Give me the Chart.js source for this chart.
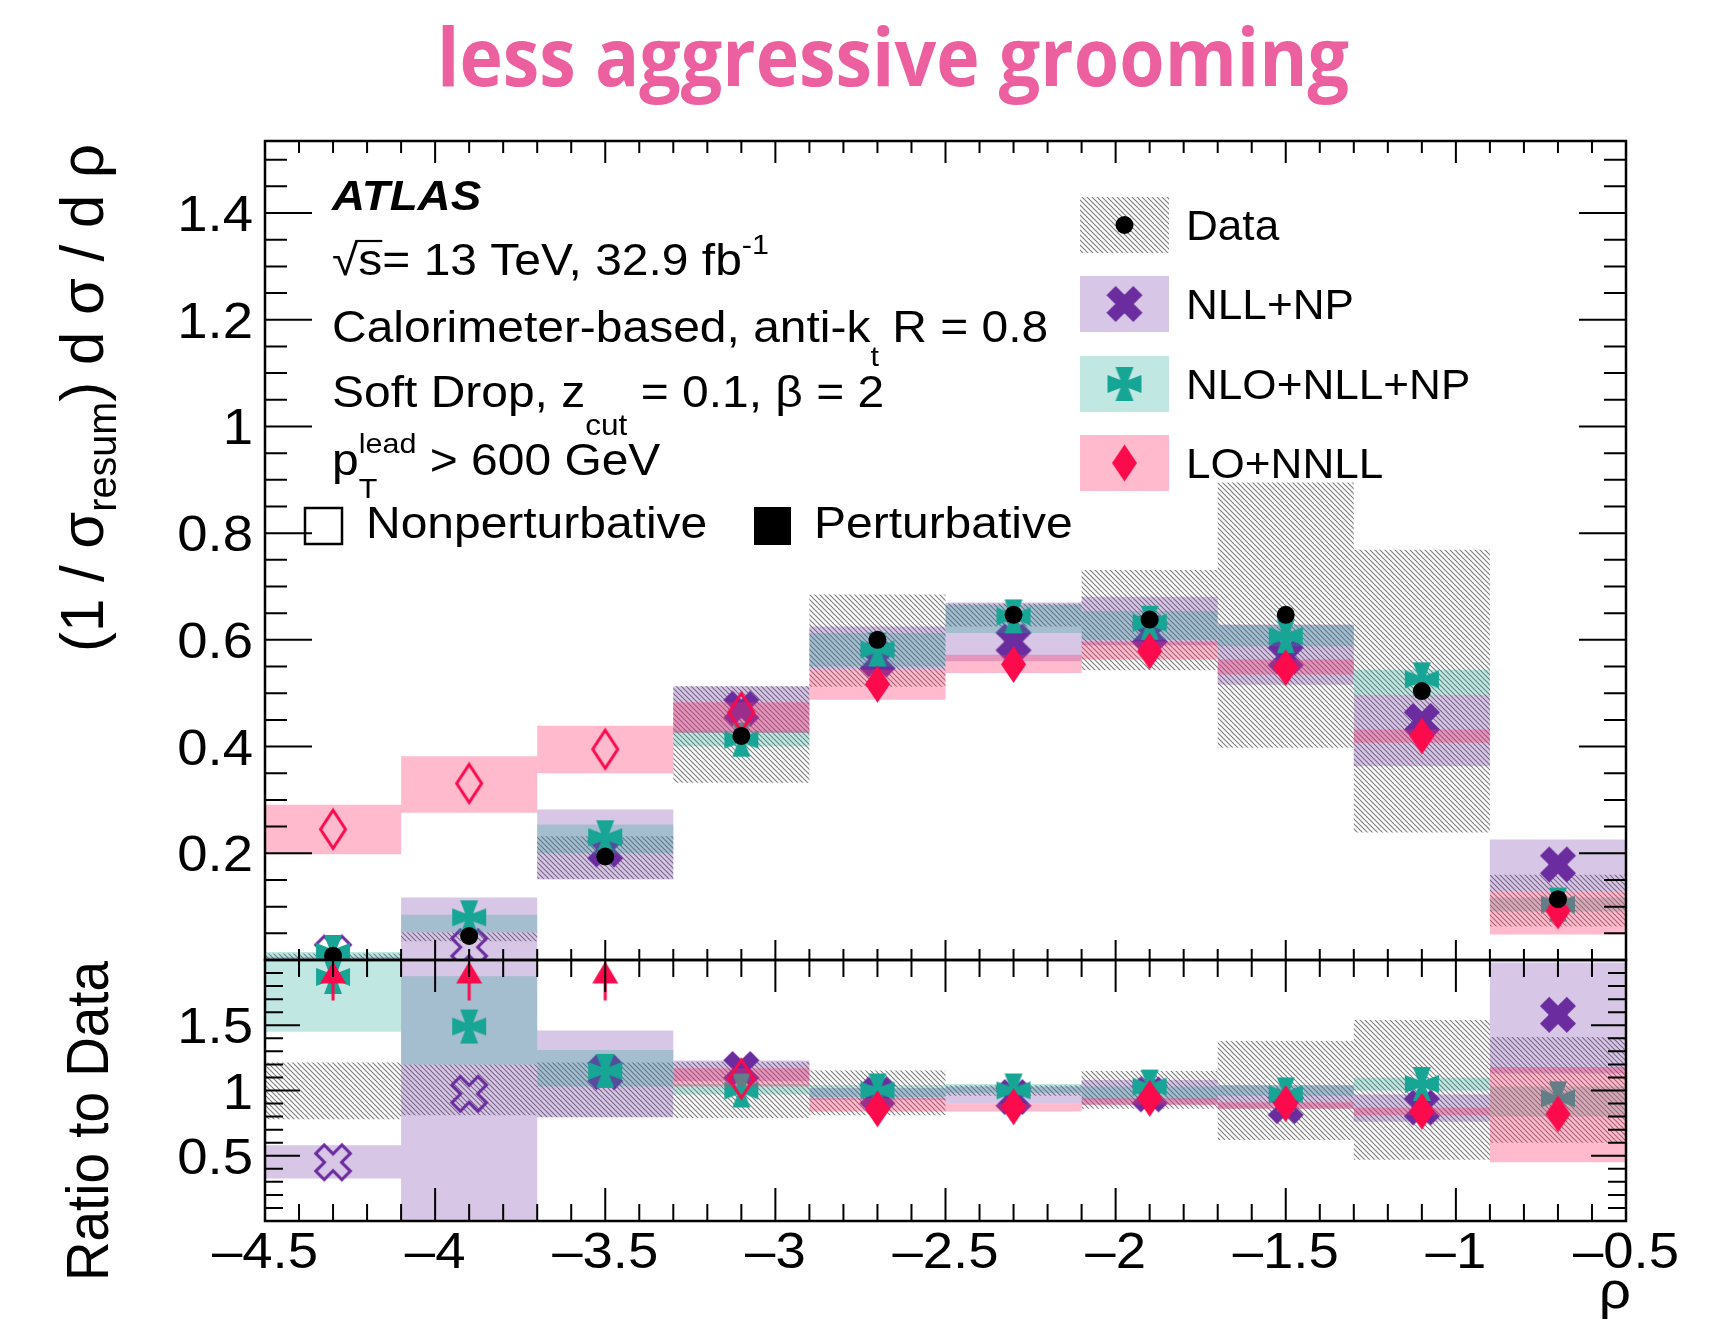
<!DOCTYPE html>
<html>
<head>
<meta charset="utf-8">
<script src="https://cdn.jsdelivr.net/npm/chart.js@4.4.1/dist/chart.umd.min.js"></script>
<style>
  html, body { margin: 0; padding: 0; background: #fff; }
  #wrap { position: relative; width: 1732px; height: 1329px; overflow: hidden; }
  #wrap canvas { position: absolute; left: 0; }
  #upper { top: 0; }
  #lower { top: 900px; }
</style>
</head>
<body>
<div id="wrap">
  <canvas id="upper" width="1732" height="1000"></canvas>
  <canvas id="lower" width="1732" height="429"></canvas>
</div>
<script>
// rho bins (width 0.4) from -4.5 to -0.5
const binCentres = [-4.3, -3.9, -3.5, -3.1, -2.7, -2.3, -1.9, -1.5, -1.1, -0.7];

// (1/sigma_resum) dsigma/drho
const dataY  = [0.008, 0.045, 0.194, 0.420, 0.600, 0.647, 0.638, 0.647, 0.504, 0.114];
const dataLo = [0.000, 0.035, 0.152, 0.332, 0.512, 0.625, 0.543, 0.398, 0.239, 0.063];
const dataHi = [0.012, 0.052, 0.232, 0.513, 0.685, 0.668, 0.731, 0.895, 0.769, 0.160];

const nllY  = [0.012, 0.024, 0.207, 0.471, 0.563, 0.597, 0.613, 0.569, 0.448, 0.179];
const nllLo = [0.000, 0.000, 0.151, 0.426, 0.544, 0.560, 0.590, 0.516, 0.363, 0.129];
const nllHi = [0.006, 0.117, 0.282, 0.513, 0.625, 0.670, 0.681, 0.629, 0.497, 0.226];

const nloY  = [0.015, 0.080, 0.230, 0.413, 0.582, 0.644, 0.632, 0.607, 0.526, 0.104];
const nloLo = [0.000, 0.052, 0.200, 0.400, 0.550, 0.613, 0.600, 0.588, 0.497, 0.091];
const nloHi = [0.015, 0.085, 0.254, 0.430, 0.613, 0.666, 0.654, 0.628, 0.544, 0.117];

const loY  = [0.245, 0.331, 0.395, 0.464, 0.517, 0.554, 0.579, 0.548, 0.420, 0.092];
const loLo = [0.198, 0.276, 0.350, 0.426, 0.488, 0.538, 0.563, 0.535, 0.407, 0.048];
const loHi = [0.291, 0.382, 0.439, 0.483, 0.544, 0.572, 0.597, 0.563, 0.432, 0.129];

// ratio to data
const rDataLo = [0.78, 0.81, 0.795, 0.79, 0.81, 0.96, 0.86, 0.62, 0.47, 0.60];
const rDataHi = [1.215, 1.20, 1.215, 1.22, 1.154, 1.04, 1.15, 1.38, 1.54, 1.41];

const rNllY  = [0.45, 0.975, 1.14, 1.165, 0.97, 0.95, 0.97, 0.88, 0.87, 1.58];
const rNllLo = [0.325, 0.00, 0.795, 1.07, 0.93, 0.90, 0.89, 0.86, 0.76, 1.13];
const rNllHi = [0.58, 2.60, 1.46, 1.23, 1.02, 1.03, 1.08, 1.04, 0.97, 1.98];

const rNloY  = [1.87, 1.49, 1.15, 1.00, 1.00, 1.00, 1.03, 0.97, 1.05, 0.94];
const rNloLo = [1.45, 1.20, 1.03, 0.97, 0.95, 0.98, 0.93, 0.96, 1.00, 0.80];
const rNloHi = [2.60, 1.875, 1.31, 1.05, 1.04, 1.05, 1.03, 1.04, 1.10, 1.03];

const rLoY  = [null, null, null, 1.09, 0.86, 0.875, 0.94, 0.90, 0.84, 0.82];
const rLoLo = [null, null, null, 1.03, 0.84, 0.84, 0.89, 0.86, 0.81, 0.45];
const rLoHi = [null, null, null, 1.17, 0.94, 0.90, 0.94, 0.91, 0.87, 1.18];

// LO+NNLL ratio runs off the top of the panel here
const rLoOffScale = [-4.3, -3.9, -3.5];
const rArrowY = 1.84;

// bins drawn with open markers (nonperturbative region)
const nllOpenBins = 2;
const loOpenBins = 4;

const xTickLabels = [-4.5, -4, -3.5, -3, -2.5, -2, -1.5, -1, -0.5];
const upperYTicks = [0.2, 0.4, 0.6, 0.8, 1, 1.2, 1.4];
const lowerYTicks = [0.5, 1, 1.5];

const titleText = 'less aggressive grooming';

const FONT = '"Liberation Sans", Arial, Helvetica, sans-serif';
const SX = 1.09;

const PURPLE = '#6a2c9e';
const TEAL = '#17a595';
const RED = '#fb0a4c';
const PURPLE_BAND = 'rgba(106,44,158,0.27)';
const TEAL_BAND = 'rgba(26,165,149,0.27)';
const PINK_BAND = 'rgba(255,49,103,0.33)';

// ---- marker images ----
function makeMarker(w, h, draw) {
  const c = document.createElement('canvas');
  c.width = w; c.height = h;
  const g = c.getContext('2d');
  g.translate(w / 2, h / 2);
  draw(g);
  return c;
}

function xPath(g, L, t) {
  const pts = [[-t,-L],[t,-L],[t,-t],[L,-t],[L,t],[t,t],[t,L],[-t,L],[-t,t],[-L,t],[-L,-t],[-t,-t]];
  g.beginPath();
  pts.forEach(([px, py], i) => {
    const rx = (px - py) * Math.SQRT1_2, ry = (px + py) * Math.SQRT1_2;
    i ? g.lineTo(rx, ry) : g.moveTo(rx, ry);
  });
  g.closePath();
}

function crossPath(g, R, e, c) {
  g.beginPath();
  g.moveTo(-e / 2, -R); g.lineTo(e / 2, -R); g.lineTo(c / 2, -c / 2);
  g.lineTo(R, -e / 2); g.lineTo(R, e / 2); g.lineTo(c / 2, c / 2);
  g.lineTo(e / 2, R); g.lineTo(-e / 2, R); g.lineTo(-c / 2, c / 2);
  g.lineTo(-R, e / 2); g.lineTo(-R, -e / 2); g.lineTo(-c / 2, -c / 2);
  g.closePath();
}

function diamondPath(g, w, h) {
  g.beginPath();
  g.moveTo(0, -h / 2); g.lineTo(w / 2, 0); g.lineTo(0, h / 2); g.lineTo(-w / 2, 0);
  g.closePath();
}

const xFilled = makeMarker(38, 38, g => { xPath(g, 19, 6.5); g.fillStyle = PURPLE; g.fill(); });
const xOpen = makeMarker(42, 42, g => { xPath(g, 18.5, 6); g.strokeStyle = PURPLE; g.lineWidth = 3; g.lineJoin = 'miter'; g.stroke(); });
const crossFilled = makeMarker(36, 36, g => { crossPath(g, 17, 18, 8); g.fillStyle = TEAL; g.fill(); });
const diamondFilled = makeMarker(27, 39, g => { diamondPath(g, 25, 37); g.fillStyle = RED; g.fill(); });
const diamondOpen = makeMarker(30, 44, g => { diamondPath(g, 25, 38); g.strokeStyle = RED; g.lineWidth = 3; g.stroke(); });
const arrowUp = makeMarker(30, 40, g => {
  g.fillStyle = RED;
  g.beginPath(); g.moveTo(0, -19.5); g.lineTo(13, 2.5); g.lineTo(-13, 2.5); g.closePath(); g.fill();
  g.fillRect(-1.5, 2, 3, 17.5);
});

function hatchPattern(canvasId) {
  const t = document.createElement('canvas');
  t.width = 5; t.height = 5;
  const g = t.getContext('2d');
  g.strokeStyle = 'rgba(80,80,80,0.72)';
  g.lineWidth = 1.2;
  g.beginPath();
  g.moveTo(-1, -1); g.lineTo(6, 6);
  g.moveTo(-1, 4); g.lineTo(1, 6);
  g.moveTo(4, -1); g.lineTo(6, 1);
  g.stroke();
  return document.getElementById(canvasId).getContext('2d').createPattern(t, 'repeat');
}

// ---- datasets ----
function bandSet(lo, hi, fill, order) {
  const pts = [];
  binCentres.forEach((x, i) => { if (lo[i] != null) pts.push({ x, y: [lo[i], hi[i]] }); });
  return { type: 'bar', data: pts, backgroundColor: fill, borderWidth: 0, grouped: false,
           barPercentage: 1, categoryPercentage: 1, inflateAmount: 0, order, clip: 0 };
}

function markerSet(vals, filled, open, nOpen, order) {
  const pts = [];
  binCentres.forEach((x, i) => { if (vals[i] != null) pts.push({ x, y: vals[i], open: i < nOpen }); });
  return { type: 'scatter', data: pts, pointStyle: c => (c.raw && c.raw.open ? open : filled),
           pointRadius: 12, order, clip: 0 };
}

function dotSet(vals, order) {
  return { type: 'scatter', data: binCentres.map((x, i) => ({ x, y: vals[i] })),
           pointStyle: 'circle', pointRadius: 9, backgroundColor: '#000', borderWidth: 0, order, clip: 0 };
}

// ---- text helpers ----
function txt(ctx, s, x, y, size, o = {}) {
  ctx.save();
  ctx.font = `${o.style || 'normal'} ${o.weight || 'normal'} ${size}px ${o.family || FONT}`;
  ctx.fillStyle = o.color || '#000';
  ctx.textAlign = o.align || 'left';
  ctx.textBaseline = 'alphabetic';
  ctx.translate(x, y);
  const sx = o.sx || SX;
  ctx.scale(sx, 1);
  ctx.fillText(s, 0, 0);
  const w = ctx.measureText(s).width * sx;
  ctx.restore();
  return w;
}

function seq(ctx, x, y, parts) {
  let cx = x;
  for (const p of parts) {
    if (Array.isArray(p)) {
      let w = 0;
      for (const q of p) w = Math.max(w, txt(ctx, q.t, cx, y + (q.dy || 0), q.size));
      cx += w;
    } else {
      cx += txt(ctx, p.t, cx, y + (p.dy || 0), p.size || 44);
    }
  }
  return cx;
}

// vertical axis title, reading upwards between yStart and yEnd
function rotTitle(ctx, parts, xBase, yStart, yEnd) {
  ctx.save();
  let natural = 0;
  for (const p of parts) { ctx.font = `${p.size}px ${FONT}`; natural += ctx.measureText(p.t).width; }
  const k = (yStart - yEnd) / natural;
  ctx.translate(xBase, yStart);
  ctx.rotate(-Math.PI / 2);
  ctx.scale(k, SX);
  ctx.fillStyle = '#000';
  let cx = 0;
  for (const p of parts) {
    ctx.font = `${p.size}px ${FONT}`;
    ctx.fillText(p.t, cx, p.dy || 0);
    cx += ctx.measureText(p.t).width;
  }
  ctx.restore();
}

function drawFrame(ctx, a, xs, ys, o) {
  ctx.save();
  ctx.strokeStyle = '#000';
  ctx.lineWidth = 2;
  ctx.beginPath();
  for (let k = 0; k <= 40; k++) {
    const px = xs.getPixelForValue(-4.5 + k * 0.1);
    const major = k % 5 === 0;
    const lt = major ? o.xTop[0] : o.xTop[1];
    const lb = major ? o.xBot[0] : o.xBot[1];
    ctx.moveTo(px, a.top); ctx.lineTo(px, a.top + lt);
    ctx.moveTo(px, a.bottom); ctx.lineTo(px, a.bottom - lb);
  }
  for (let k = 1; k <= o.yCount; k++) {
    const py = ys.getPixelForValue(k * o.yStep);
    const l = k % o.yEvery === 0 ? o.yLen[0] : o.yLen[1];
    ctx.moveTo(a.left, py); ctx.lineTo(a.left + l, py);
    ctx.moveTo(a.right, py); ctx.lineTo(a.right - l, py);
  }
  ctx.stroke();
  ctx.lineWidth = 2.5;
  ctx.strokeRect(a.left, a.top, a.right - a.left, a.bottom - a.top);
  ctx.restore();
}

function tickLabel(v) {
  return v < 0 ? '\u2013' + String(-v) : String(v);
}

// ---- upper panel ----
const upperDecor = {
  id: 'upperDecor',
  afterDraw(chart) {
    const { ctx, chartArea: a, scales: { x, y } } = chart;
    drawFrame(ctx, a, x, y, { xTop: [22, 12], xBot: [20, 11], yLen: [47, 22], yStep: 0.05, yEvery: 4, yCount: 30 });

    upperYTicks.forEach(v => txt(ctx, tickLabel(v), 253, y.getPixelForValue(v) + 18, 50, { align: 'right' }));

    // title
    ctx.save();
    ctx.font = 'bold 80px "Open Sans", sans-serif';
    const tw = ctx.measureText(titleText).width;
    ctx.translate(893, 86);
    ctx.scale(912 / tw, 1);
    ctx.textAlign = 'center';
    ctx.fillStyle = '#ed60a0';
    ctx.fillText(titleText, 0, 0);
    ctx.restore();

    // labels
    txt(ctx, 'ATLAS', 332, 210, 42, { weight: 'bold', style: 'italic' });
    const sEnd = seq(ctx, 332, 275, [{ t: '\u221A' }]);
    const sEnd2 = seq(ctx, sEnd, 275, [{ t: 's' }]);
    ctx.save(); ctx.strokeStyle = '#000'; ctx.lineWidth = 2.2;
    ctx.beginPath(); ctx.moveTo(sEnd - 3, 241); ctx.lineTo(sEnd2, 241); ctx.stroke(); ctx.restore();
    seq(ctx, sEnd2, 275, [{ t: '= 13 TeV, 32.9 fb' }, { t: '-1', size: 28, dy: -21 }]);
    seq(ctx, 332, 342, [{ t: 'Calorimeter-based, anti-k' }, { t: 't', size: 28, dy: 24 }, { t: ' R = 0.8' }]);
    seq(ctx, 332, 407, [{ t: 'Soft Drop, z' }, { t: 'cut', size: 29, dy: 28 }, { t: ' = 0.1, \u03B2 = 2' }]);
    seq(ctx, 332, 475, [{ t: 'p' }, [{ t: 'lead', size: 28, dy: -22 }, { t: 'T', size: 28, dy: 23 }], { t: ' > 600 GeV' }]);

    ctx.save();
    ctx.lineWidth = 2.5; ctx.strokeStyle = '#000'; ctx.fillStyle = '#000';
    ctx.strokeRect(305, 508, 37, 36);
    ctx.fillRect(754, 507, 37, 38);
    ctx.restore();
    txt(ctx, 'Nonperturbative', 366, 538, 44);
    txt(ctx, 'Perturbative', 814, 538, 44);

    // legend
    const rows = [
      { label: 'Data', fill: chart.$hatch, img: null },
      { label: 'NLL+NP', fill: PURPLE_BAND, img: xFilled },
      { label: 'NLO+NLL+NP', fill: TEAL_BAND, img: crossFilled },
      { label: 'LO+NNLL', fill: PINK_BAND, img: diamondFilled }
    ];
    const tops = [197, 276, 356, 435];
    rows.forEach((r, i) => {
      const top = tops[i], cy = top + 28, cx = 1124.5;
      ctx.save();
      ctx.fillStyle = r.fill;
      ctx.fillRect(1080, top, 89, 56);
      if (r.img) {
        ctx.drawImage(r.img, cx - r.img.width / 2, cy - r.img.height / 2);
      } else {
        ctx.fillStyle = '#000';
        ctx.beginPath(); ctx.arc(cx, cy, 9, 0, Math.PI * 2); ctx.fill();
      }
      ctx.restore();
      txt(ctx, r.label, 1186, cy + 15, 42, { sx: 1.05 });
    });

    rotTitle(ctx, [
      { t: '(1 / \u03C3', size: 56 },
      { t: 'resum', size: 37, dy: 12 },
      { t: ') d \u03C3 / d \u03C1', size: 56 }
    ], 103, 652, 144);
  }
};

const upperHatch = hatchPattern('upper');

const xScaleOpts = {
  type: 'linear', min: -4.5, max: -0.5, offset: false, display: false,
  afterBuildTicks: s => { s.ticks = xTickLabels.map(v => ({ value: v })); }
};

const upperChart = new Chart(document.getElementById('upper'), {
  type: 'scatter',
  data: {
    datasets: [
      bandSet(dataLo, dataHi, upperHatch, 7),
      bandSet(nllLo, nllHi, PURPLE_BAND, 6),
      markerSet(nllY, xFilled, xOpen, nllOpenBins, 5),
      bandSet(nloLo, nloHi, TEAL_BAND, 4),
      markerSet(nloY, crossFilled, crossFilled, 0, 3),
      bandSet(loLo, loHi, PINK_BAND, 2),
      markerSet(loY, diamondFilled, diamondOpen, loOpenBins, 1),
      dotSet(dataY, 0)
    ]
  },
  options: {
    responsive: false,
    animation: false,
    devicePixelRatio: 1,
    events: [],
    layout: { padding: { left: 265, right: 106, top: 141, bottom: 40 } },
    plugins: { legend: { display: false }, tooltip: { enabled: false } },
    scales: {
      x: xScaleOpts,
      y: { type: 'linear', min: 0, max: 1.535, display: false,
           afterBuildTicks: s => { s.ticks = upperYTicks.map(v => ({ value: v })); } }
    }
  },
  plugins: [{ id: 'hatchRef', beforeInit(c) { c.$hatch = upperHatch; } }, upperDecor]
});

// ---- ratio panel ----
const lowerDecor = {
  id: 'lowerDecor',
  afterDraw(chart) {
    const { ctx, chartArea: a, scales: { x, y } } = chart;
    drawFrame(ctx, a, x, y, { xTop: [32, 17], xBot: [33, 17], yLen: [35, 18], yStep: 0.1, yEvery: 5, yCount: 19 });
    lowerYTicks.forEach(v => txt(ctx, tickLabel(v), 253, y.getPixelForValue(v) + 18, 50, { align: 'right' }));
    xTickLabels.forEach(v => txt(ctx, tickLabel(v), x.getPixelForValue(v), 368, 50, { align: 'center' }));
    txt(ctx, '\u03C1', 1631, 408, 52, { align: 'right' });
    rotTitle(ctx, [{ t: 'Ratio to Data', size: 54 }], 108, 381, 61);
  }
};

const lowerChart = new Chart(document.getElementById('lower'), {
  type: 'scatter',
  data: {
    datasets: [
      bandSet(rDataLo, rDataHi, hatchPattern('lower'), 7),
      bandSet(rNllLo, rNllHi, PURPLE_BAND, 6),
      markerSet(rNllY, xFilled, xOpen, nllOpenBins, 5),
      bandSet(rNloLo, rNloHi, TEAL_BAND, 4),
      markerSet(rNloY, crossFilled, crossFilled, 0, 3),
      bandSet(rLoLo, rLoHi, PINK_BAND, 2),
      markerSet(rLoY, diamondFilled, diamondOpen, loOpenBins, 1),
      { type: 'scatter', data: rLoOffScale.map(x => ({ x, y: rArrowY })), pointStyle: arrowUp,
        pointRadius: 12, order: 0, clip: 0 }
    ]
  },
  options: {
    responsive: false,
    animation: false,
    devicePixelRatio: 1,
    events: [],
    layout: { padding: { left: 265, right: 106, top: 60, bottom: 108 } },
    plugins: { legend: { display: false }, tooltip: { enabled: false } },
    scales: {
      x: xScaleOpts,
      y: { type: 'linear', min: 0, max: 2, display: false,
           afterBuildTicks: s => { s.ticks = lowerYTicks.map(v => ({ value: v })); } }
    }
  },
  plugins: [lowerDecor]
});
</script>
</body>
</html>
